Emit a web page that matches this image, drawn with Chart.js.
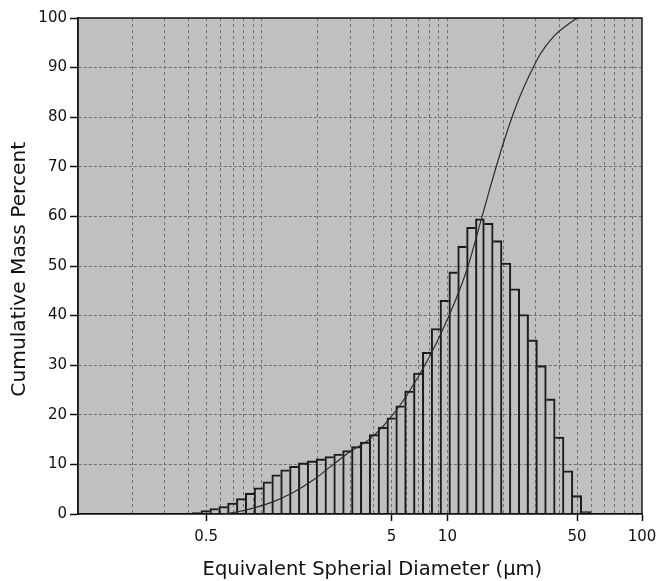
<!DOCTYPE html>
<html>
<head>
<meta charset="utf-8">
<script src="https://cdn.jsdelivr.net/npm/chart.js@4.4.1/dist/chart.umd.min.js"></script>
<style>
html,body{margin:0;padding:0;background:#ffffff;}
#wrap{width:656px;height:581px;position:relative;}
canvas{display:block;}
</style>
</head>
<body>
<div id="wrap"><canvas id="c" width="656" height="581"></canvas></div>
<script>
// ---- data ----
// histogram size classes (bin centres, µm) and mass in each class (%)
const binCenters = [0.444,0.496,0.554,0.618,0.690,0.770,0.859,0.959,1.07,1.195,
  1.334,1.489,1.662,1.854,2.07,2.31,2.579,2.879,3.213,3.587,
  4.003,4.468,4.988,5.568,6.214,6.935,7.742,8.641,9.643,10.76,
  12.01,13.41,14.97,16.71,18.65,20.82,23.23,25.94,28.95,32.31,
  36.06,40.26,44.93,50.15,55.98];
const binMass = [0.3,0.7,1.1,1.5,2.2,3.1,4.2,5.3,6.5,7.9,
  8.9,9.6,10.3,10.7,11.1,11.6,12.1,12.8,13.6,14.5,
  16.0,17.5,19.4,21.8,24.8,28.4,32.6,37.4,43.1,48.8,
  54.0,57.8,59.5,58.6,55.1,50.6,45.4,40.2,35.1,29.9,
  23.2,15.5,8.7,3.7,0.5];
// cumulative curve
const curveDiam = [0.611,0.703,0.901,1.155,1.481,1.899,2.337,2.996,3.841,4.924,
  6.061,8.09,10.16,12.78,15.39,17.06,20.13,23.78,28.05,31.76,37.47,44.26,50.1];
const curveCum = [0,0.3,1.2,2.5,4.4,6.9,9.5,12.6,15.2,19.4,
  24.0,32.0,39.8,49.4,60.0,66.0,75.0,82.8,88.9,92.8,96.3,98.6,100];
// axes
const xMin = 0.102, xMax = 112;
const xGridValues = [0.2,0.3,0.4,0.5,0.6,0.7,0.8,0.9,1,2,3,4,5,6,7,8,9,10,20,30,40,50,60,70,80,90,100];
const xLabelValues = [0.5,5,10,50,xMax];
const xLabelTexts = ['0.5','5','10','50','100'];
const yMin = 0, yMax = 100, yStep = 10;
const xTitle = '\u00A0\u00A0\u00A0\u00A0Equivalent Spherial Diameter (µm)';
const yTitle = 'Cumulative Mass Percent\u00A0';

Chart.defaults.font.family = "'DejaVu Sans', sans-serif";
Chart.defaults.color = '#111';

function labelIndex(v){
  for (let i=0;i<xLabelValues.length;i++){ if (Math.abs(xLabelValues[i]-v) < 1e-6*Math.max(1,v)) return i; }
  return -1;
}

const BW = 1.4;
function barBorder(c){
  const i = c.dataIndex, n = binMass.length;
  const left = (i === 0 || binMass[i] > binMass[i-1]) ? BW : 0;
  const right = (i === n-1 || binMass[i] >= binMass[i+1]) ? BW : 0;
  return {top:BW, left:left, right:right, bottom:0};
}

const bgPlugin = {
  id:'plotbg',
  beforeDraw(chart){
    const {ctx, chartArea:a} = chart;
    ctx.save();
    ctx.fillStyle = '#c0c0c0';
    ctx.fillRect(a.left, a.top, a.right-a.left, a.bottom-a.top);
    ctx.restore();
  },
  afterDatasetsDraw(chart){
    const {ctx, chartArea:a} = chart;
    ctx.save();
    ctx.strokeStyle = '#111';
    ctx.lineWidth = 1.4;
    ctx.beginPath();
    ctx.moveTo(a.left, a.top);
    ctx.lineTo(a.right, a.top);
    ctx.lineTo(a.right, a.bottom);
    ctx.stroke();
    ctx.restore();
  }
};

const allTicks = xGridValues.concat([xMax]);

new Chart(document.getElementById('c').getContext('2d'), {
  type:'bar',
  data:{
    datasets:[
      {
        type:'line',
        data: curveDiam.map((d,i)=>({x:d, y:curveCum[i]})),
        borderColor:'#2b2b2b',
        borderWidth:1.2,
        pointRadius:0,
        fill:false,
        cubicInterpolationMode:'monotone',
        order:0
      },
      {
        type:'bar',
        data: binCenters.map((d,i)=>({x:d, y:binMass[i]})),
        backgroundColor:'rgba(0,0,0,0)',
        borderColor:'#1c1c1c',
        borderWidth:barBorder,
        borderSkipped:false,
        barThickness:'flex',
        barPercentage:1,
        categoryPercentage:1,
        order:1
      }
    ]
  },
  options:{
    responsive:false,
    animation:false,
    devicePixelRatio:1,
    layout:{padding:{top:18,right:14,left:0,bottom:0}},
    plugins:{legend:{display:false}, tooltip:{enabled:false}},
    scales:{
      x:{
        type:'logarithmic',
        min:xMin, max:xMax,
        offset:false,
        afterBuildTicks:(s)=>{ s.ticks = allTicks.map(v=>({value:v})); },
        afterFit:(s)=>{ s.height = 67; s.paddingLeft = 0; s.paddingRight = 0; },
        ticks:{
          autoSkip:false, maxRotation:0, minRotation:0, padding:7,
          font:{size:15},
          color:'#111',
          callback:(v)=>{ const i = labelIndex(v); return i>=0 ? xLabelTexts[i] : ''; }
        },
        grid:{
          offset:false,
          color:(c)=> (c.tick && c.tick.value===xMax) ? 'rgba(0,0,0,0)' : '#6f6f6f',
          lineWidth:1,
          tickLength:7,
          tickWidth:1.5,
          tickColor:(c)=> (c.tick && labelIndex(c.tick.value)>=0) ? '#111' : 'rgba(0,0,0,0)'
        },
        border:{display:true, color:'#111', width:1.8, dash:[3,3]},
        title:{display:true, text:xTitle, font:{size:19.5}, color:'#111', padding:{top:0,bottom:-1}}
      },
      y:{
        type:'linear',
        min:yMin, max:yMax,
        afterFit:(s)=>{ s.width = 78; s.paddingTop = 0; s.paddingBottom = 0; },
        ticks:{stepSize:yStep, padding:3, font:{size:15}, color:'#111'},
        grid:{
          color:(c)=> (c.tick && (c.tick.value===yMin || c.tick.value===yMax)) ? 'rgba(0,0,0,0)' : '#6f6f6f',
          lineWidth:1,
          tickLength:8,
          tickWidth:1.5,
          tickColor:'#111'
        },
        border:{display:true, color:'#111', width:1.8, dash:[3,2]},
        title:{display:true, text:yTitle, font:{size:20.2}, color:'#111', padding:{top:7.5,bottom:0}}
      }
    }
  },
  plugins:[bgPlugin]
});
</script>
</body>
</html>
